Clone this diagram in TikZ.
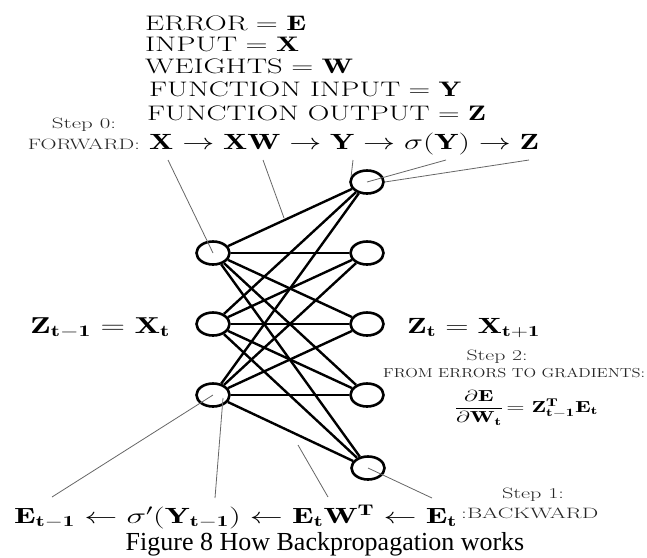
\RequirePackage{fix-cm}
\documentclass[tikz,border=0pt]{standalone}
\usepackage{amsmath}
\usepackage{fontspec}
\newfontfamily\capfont{Liberation Serif}
\usetikzlibrary{shapes.geometric,calc}
\newcommand\fs[1]{\fontsize{#1}{#1}\selectfont}
\newcommand\tw[2]{\resizebox{#1pt}{\height}{#2}}
\tikzset{
  neuron/.style={ellipse, draw=black, line width=2.6pt, minimum width=33pt, minimum height=23pt, inner sep=0pt},
  wedge/.style={line width=2.4pt},
  lead/.style={draw=black!60, line width=0.8pt},
  txt/.style={inner sep=0pt, anchor=base west},
  sm/.style={inner sep=0pt, text=black!85, font=\fs{15}},
}
\begin{document}
\begin{tikzpicture}[x=1pt,y=-1pt]
\useasboundingbox (0,0) rectangle (647,557);
% header
\node[txt, font=\fs{21}] (h1) at (145,30) {\tw{161}{$\text{ERROR}=\mathbf{E}$}};
\node[txt, font=\fs{21}] (h2) at (145,51) {\tw{154}{$\text{INPUT}=\mathbf{X}$}};
\node[txt, font=\fs{21}] (h3) at (145,73) {\tw{208}{$\text{WEIGHTS}=\mathbf{W}$}};
\node[txt, font=\fs{21}] (h4) at (149,96) {\tw{312}{$\text{FUNCTION INPUT}=\mathbf{Y}$}};
\node[txt, font=\fs{21}] (h5) at (147,120) {\tw{339}{$\text{FUNCTION OUTPUT}=\mathbf{Z}$}};
\node[sm, anchor=base] (s0) at (84,128) {\tw{64}{Step 0:}};
\node[sm, anchor=base east] (fw) at (140,149) {\tw{112}{FORWARD:}};
\node[txt, font=\fs{22}] (ff) at (149,149) {\tw{390}{$\mathbf{X}\rightarrow\mathbf{XW}\rightarrow\mathbf{Y}\rightarrow\sigma(\mathbf{Y})\rightarrow\mathbf{Z}$}};
% neurons
\node[neuron] (L1) at (213,253) {};
\node[neuron] (L2) at (213,324) {};
\node[neuron] (L3) at (213,395) {};
\node[neuron] (R1) at (367,182) {};
\node[neuron] (R2) at (367,253) {};
\node[neuron] (R3) at (367,324) {};
\node[neuron] (R4) at (367,395) {};
\node[neuron] (R5) at (368,468) {};
\foreach \l in {L1,L2,L3}
  \foreach \r in {R1,R2,R3,R4,R5}
    \draw[wedge] (\l) -- (\r);
% side labels
\node[txt, font=\fs{23}] (zl) at (30,333) {\tw{140}{$\mathbf{Z}_{\mathbf{t-1}}=\mathbf{X}_{\mathbf{t}}$}};
\node[txt, font=\fs{22}] (zt) at (407,333) {\tw{133}{$\mathbf{Z}_{\mathbf{t}}=\mathbf{X}_{\mathbf{t+1}}$}};
\node[sm, anchor=base] (s2) at (497,360) {\tw{61}{Step 2:}};
\node[sm, anchor=base west, font=\fs{13}] (fe) at (383,377) {\tw{262}{FROM ERRORS TO GRADIENTS:}};
\node[txt, font=\fs{16}] (gr) at (454,412) {\tw{144}{$\dfrac{\partial\mathbf{E}}{\partial\mathbf{W}_{\mathbf{t}}}\!=\mathbf{Z}^{\mathbf{T}}_{\mathbf{t-1}}\mathbf{E}_{\mathbf{t}}$}};
% bottom
\node[txt, font=\fs{22}] (bf) at (14,523) {\tw{443}{$\mathbf{E}_{\mathbf{t-1}}\leftarrow\sigma'(\mathbf{Y}_{\mathbf{t-1}})\leftarrow\mathbf{E}_{\mathbf{t}}\mathbf{W}^{\mathbf{T}}\leftarrow\mathbf{E}_{\mathbf{t}}$}};
\node[sm, anchor=base west] (bw) at (461,518) {\tw{137}{:BACKWARD}};
\node[sm, anchor=base] (s1) at (533,498) {\tw{62}{Step 1:}};
\node[font=\capfont\fs{26}, inner sep=0pt, anchor=base] (cap) at (325,550) {Figure 8 How Backpropagation works};
% leader lines
\coordinate (cX) at (168,160);
\coordinate (cXW) at (263,160);
\coordinate (mA) at (284,218);
\coordinate (cY) at (353,160);
\coordinate (cS) at (446,160);
\coordinate (cZ) at (529,160);
\coordinate (bE1) at (52,497);
\coordinate (bS) at (215,498);
\coordinate (L3r) at (223,398);
\coordinate (bEW) at (328,497);
\coordinate (mB) at (298,445);
\coordinate (bEt) at (432,498);
\draw[lead] (cX) -- (L1.center);
\draw[lead] (cXW) -- (mA);
\draw[lead] (cY) -- (R1.160);
\draw[lead] (cS) -- (R1.center);
\draw[lead] (cZ) -- (R1.east);
\draw[lead] (bE1) -- (L3.center);
\draw[lead] (bS) -- (L3r);
\draw[lead] (bEW) -- (mB);
\draw[lead] (bEt) -- (R5.center);
\end{tikzpicture}
\end{document}
